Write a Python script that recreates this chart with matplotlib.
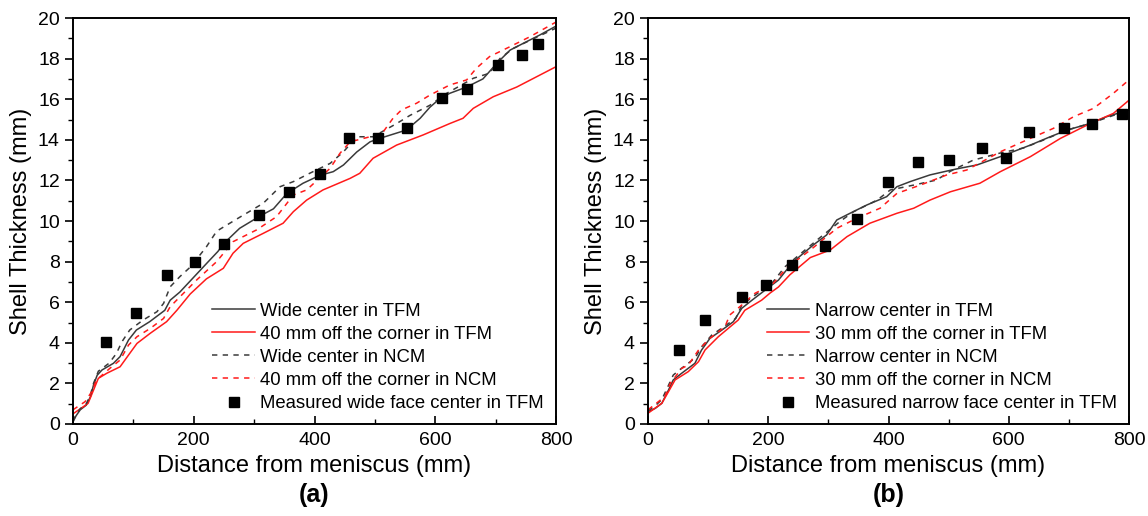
import matplotlib
matplotlib.use('Agg')
import matplotlib.pyplot as plt
from matplotlib.ticker import MultipleLocator

plt.rcParams['font.family'] = ['Liberation Sans', 'DejaVu Sans']

# ---- (a) wide face ----
wide_tfm_x = [0, 5, 12, 22, 29, 34, 40, 48, 67, 78, 92, 105, 127, 152, 161, 177, 199, 221, 240, 250,
              276, 310, 332, 354, 381, 409, 431, 448, 470, 492, 508, 552, 575, 591, 608, 624, 652, 679,
              702, 724, 751, 773, 800]
wide_tfm_y = [0.1, 0.4, 0.7, 0.93, 1.35, 1.92, 2.4, 2.66, 2.99, 3.32, 4.14, 4.63, 5.04, 5.6, 6.1, 6.5,
              7.2, 7.9, 8.5, 8.9, 9.64, 10.25, 10.6, 11.35, 11.86, 12.25, 12.43, 12.76, 13.4, 13.9, 14.07,
              14.48, 15.06, 15.6, 16.04, 16.29, 16.6, 17.0, 17.77, 18.42, 18.83, 19.16, 19.6]

wide_ncm_x = [0, 5, 12, 22, 29, 34, 42, 60, 72, 81, 94, 116, 139, 150, 161, 177, 195, 221, 238, 277,
              315, 343, 365, 392, 426, 448, 470, 497, 536, 558, 591, 619, 663, 690, 707, 729, 757, 800]
wide_ncm_y = [0.15, 0.45, 0.75, 1.0, 1.45, 2.0, 2.6, 3.0, 3.48, 4.05, 4.63, 5.12, 5.53, 5.94, 6.76, 7.26,
              7.75, 8.73, 9.5, 10.2, 10.87, 11.69, 11.94, 12.35, 12.84, 13.41, 14.15, 14.15, 14.8, 15.2,
              15.7, 16.29, 17.03, 17.28, 18.0, 18.5, 18.9, 19.5]

corner40_tfm_x = [0, 17, 25, 34, 42, 56, 78, 94, 106, 128, 155, 172, 194, 221, 249, 265, 282, 315, 348,
                  365, 387, 414, 459, 475, 497, 536, 580, 624, 646, 663, 696, 735, 800]
corner40_tfm_y = [0.5, 0.85, 1.02, 1.67, 2.25, 2.5, 2.82, 3.48, 3.97, 4.47, 5.04, 5.6, 6.4, 7.15, 7.67,
                  8.41, 8.9, 9.39, 9.89, 10.46, 11.03, 11.53, 12.1, 12.35, 13.09, 13.74, 14.24, 14.8,
                  15.06, 15.55, 16.12, 16.6, 17.6]

corner40_ncm_x = [0, 20, 31, 39, 61, 78, 92, 106, 128, 150, 161, 183, 205, 238, 265, 304, 337, 365, 387,
                  426, 442, 459, 492, 514, 530, 544, 569, 591, 624, 652, 668, 690, 724, 757, 800]
corner40_ncm_y = [0.7, 1.1, 1.59, 2.17, 2.74, 3.15, 3.89, 4.3, 4.71, 5.2, 5.78, 6.44, 7.1, 8.0, 8.98, 9.56,
                  10.21, 11.28, 11.53, 12.6, 13.33, 13.9, 14.15, 14.4, 15.06, 15.47, 15.8, 16.2, 16.7,
                  16.95, 17.52, 18.1, 18.59, 19.08, 19.8]

wide_meas_x = [55, 105, 156, 202, 250, 308, 357, 409, 457, 505, 554, 612, 653, 704, 743, 771]
wide_meas_y = [4.05, 5.45, 7.35, 8.0, 8.85, 10.3, 11.45, 12.3, 14.1, 14.1, 14.56, 16.06, 16.5, 17.7,
               18.2, 18.7]

# ---- (b) narrow face ----
narrow_tfm_x = [0, 12, 23, 34, 42, 56, 78, 89, 103, 123, 142, 156, 173, 195, 217, 228, 242, 275, 297,
                314, 336, 364, 397, 414, 436, 469, 503, 519, 547, 586, 636, 669, 697, 736, 763, 800]
narrow_tfm_y = [0.6, 0.77, 1.02, 1.67, 2.17, 2.5, 2.99, 3.64, 4.22, 4.63, 5.04, 5.7, 6.1, 6.6, 7.09, 7.5,
                8.0, 8.82, 9.31, 10.05, 10.38, 10.79, 11.2, 11.69, 11.94, 12.27, 12.5, 12.6, 12.76,
                13.17, 13.74, 14.15, 14.48, 14.81, 15.14, 15.47]

narrow_ncm_x = [0, 12, 23, 34, 42, 56, 78, 89, 106, 146, 156, 178, 206, 228, 281, 319, 342, 381, 403,
                442, 480, 503, 541, 586, 625, 658, 697, 736, 800]
narrow_ncm_y = [0.65, 0.9, 1.2, 1.9, 2.41, 2.75, 3.24, 3.8, 4.38, 5.2, 5.86, 6.35, 6.93, 7.75, 9.06,
                9.97, 10.46, 11.03, 11.53, 11.77, 12.02, 12.45, 13.0, 13.35, 13.6, 13.99, 14.48, 14.81,
                15.47]

corner30_tfm_x = [0, 23, 34, 45, 67, 84, 95, 117, 150, 161, 189, 203, 217, 236, 270, 303, 331, 369, 414,
                  442, 469, 503, 552, 586, 636, 686, 736, 774, 800]
corner30_tfm_y = [0.53, 1.02, 1.59, 2.17, 2.58, 3.07, 3.65, 4.3, 5.12, 5.6, 6.1, 6.45, 6.75, 7.35, 8.2,
                  8.57, 9.23, 9.89, 10.38, 10.63, 11.03, 11.44, 11.86, 12.43, 13.17, 14.07, 14.81, 15.3,
                  15.95]

corner30_ncm_x = [0, 28, 37, 56, 67, 84, 103, 128, 136, 156, 178, 206, 231, 270, 314, 347, 386, 414,
                  453, 497, 530, 586, 636, 674, 708, 741, 774, 800]
corner30_ncm_y = [0.7, 1.35, 2.0, 2.74, 2.9, 3.64, 4.22, 4.79, 5.37, 5.86, 6.44, 6.85, 7.7, 8.57, 9.64,
                  10.13, 10.63, 11.36, 11.77, 12.27, 12.51, 13.41, 14.07, 14.56, 15.14, 15.55, 16.29,
                  16.95]

narrow_meas_x = [51, 95, 156, 196, 240, 294, 348, 399, 449, 500, 556, 595, 634, 692, 738, 789]
narrow_meas_y = [3.65, 5.1, 6.24, 6.85, 7.83, 8.77, 10.11, 11.92, 12.9, 13.0, 13.61, 13.12, 14.37,
                 14.56, 14.76, 15.27]

labels_a = ['Wide center in TFM', '40 mm off the corner in TFM', 'Wide center in NCM',
            '40 mm off the corner in NCM', 'Measured wide face center in TFM']
labels_b = ['Narrow center in TFM', '30 mm off the corner in TFM', 'Narrow center in NCM',
            '30 mm off the corner in NCM', 'Measured narrow face center in TFM']

dash = (0, (3.5, 3.5))
gray = '#3a3a3a'
red = '#ff1a1a'

fig = plt.figure(figsize=(11.48, 5.16), dpi=100)
ax1 = fig.add_axes([73/1148, 92/516, 483/1148, 406/516])
ax2 = fig.add_axes([648/1148, 92/516, 481/1148, 406/516])

panels = [
    (ax1, [(wide_tfm_x, wide_tfm_y), (corner40_tfm_x, corner40_tfm_y), (wide_ncm_x, wide_ncm_y),
           (corner40_ncm_x, corner40_ncm_y)], (wide_meas_x, wide_meas_y), labels_a, '(a)'),
    (ax2, [(narrow_tfm_x, narrow_tfm_y), (corner30_tfm_x, corner30_tfm_y), (narrow_ncm_x, narrow_ncm_y),
           (corner30_ncm_x, corner30_ncm_y)], (narrow_meas_x, narrow_meas_y), labels_b, '(b)'),
]

for ax, curves, meas, labels, tag in panels:
    styles = [(gray, '-'), (red, '-'), (gray, dash), (red, dash)]
    for (cx, cy), (c, ls), lab in zip(curves, styles, labels):
        ax.plot(cx, cy, color=c, linestyle=ls, lw=1.1, label=lab)
    ax.plot(meas[0], meas[1], 's', color='black', ms=6.5, linestyle='none', label=labels[4])

    ax.set_xlim(0, 800)
    ax.set_ylim(0, 20)
    ax.xaxis.set_major_locator(MultipleLocator(200))
    ax.xaxis.set_minor_locator(MultipleLocator(100))
    ax.yaxis.set_major_locator(MultipleLocator(2))
    ax.yaxis.set_minor_locator(MultipleLocator(1))
    ax.tick_params(axis='x', which='both', direction='in', top=False, labelsize=14, pad=6)
    ax.tick_params(axis='y', which='both', direction='out', right=False, labelsize=14)
    ax.tick_params(which='major', length=6, width=1.2)
    ax.tick_params(which='minor', length=3.5, width=1.0)
    for s in ax.spines.values():
        s.set_linewidth(1.4)
    ax.set_xlabel('Distance from meniscus (mm)', fontsize=17, labelpad=4)
    ax.set_ylabel('Shell Thickness (mm)', fontsize=17, labelpad=4)
    ax.legend(loc='lower right', frameon=False, fontsize=13.3, handlelength=2.3,
              handletextpad=0.3, labelspacing=0.33, borderaxespad=0.45, borderpad=0.2)
    bb = ax.get_position()
    fig.text(bb.x0 + bb.width / 2, 0.04, tag, ha='center', va='center',
             fontsize=18, fontweight='bold')

fig.savefig('out.png', dpi=100)
